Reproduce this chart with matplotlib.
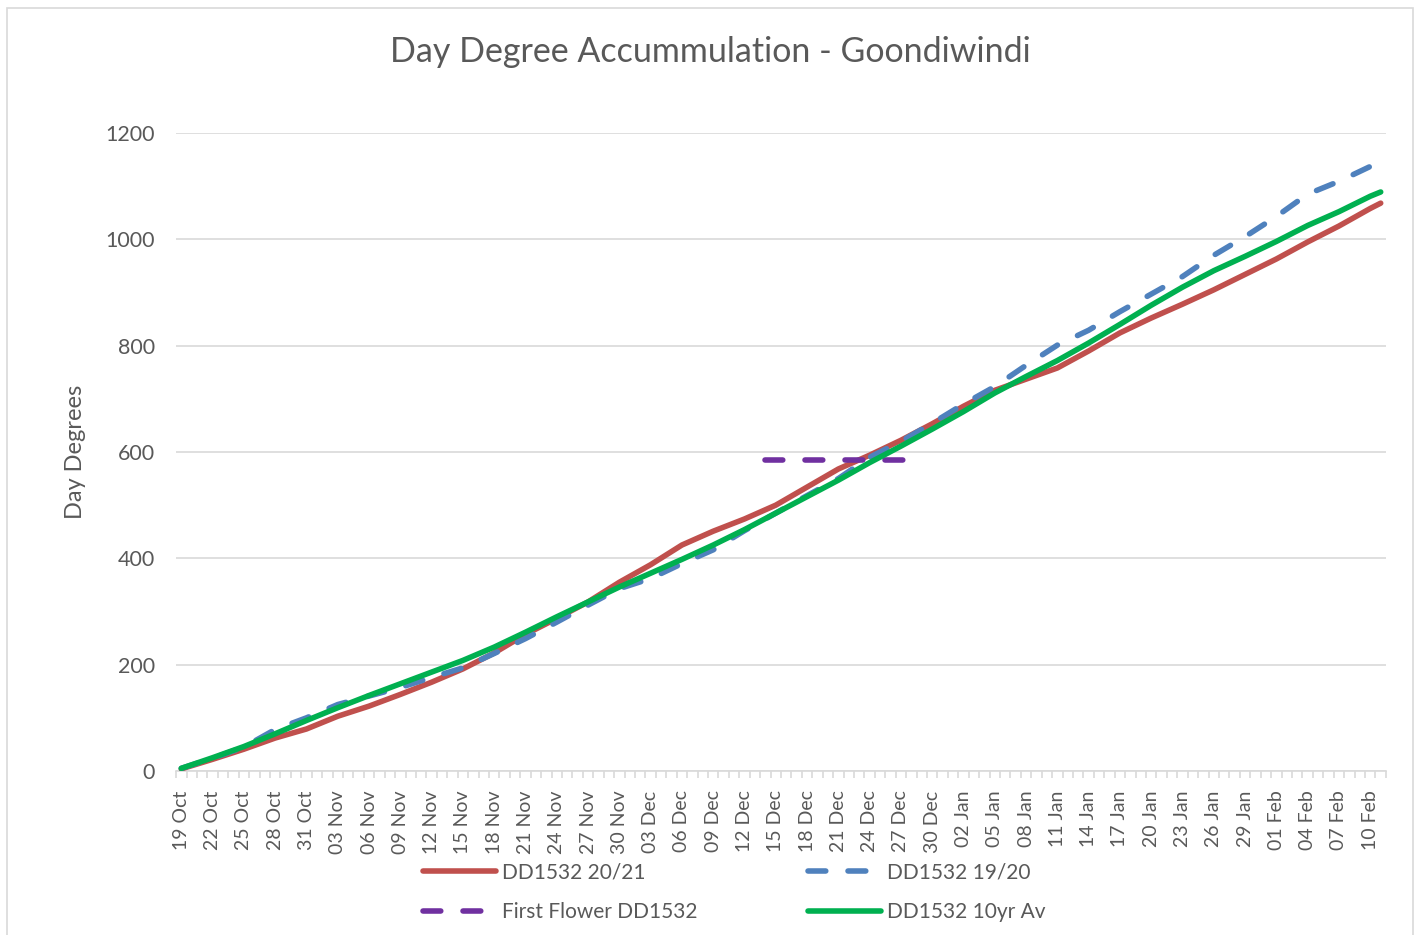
import pandas as pd
import matplotlib.pyplot as plt
from matplotlib.patches import Rectangle

plt.rcParams['font.family'] = ['Lato', 'DejaVu Sans']

# Fechas: una muestra cada 3 dias, mas el ultimo dia (11 Feb)
start = pd.Timestamp('2020-10-19')
sample_dates = pd.date_range('2020-10-19', '2021-02-10', freq='3D').append(pd.DatetimeIndex(['2021-02-11']))
tick_dates = pd.date_range('2020-10-19', '2021-02-10', freq='3D')
n_days = 116

# Grados dia acumulados
dd_2021 = [4, 22, 41, 62, 79, 103, 122, 144, 167, 192, 222, 257, 287, 318, 355, 388, 425, 451, 474, 500,
           534, 568, 594, 622, 653, 686, 716, 737, 758, 790, 824, 852, 878, 905, 934, 963, 995, 1025, 1058, 1068]
dd_1920 = [5, 24, 45, 78, 100, 125, 141, 157, 176, 194, 221, 249, 280, 312, 343, 362, 390, 416, 452, 485,
           518, 550, 590, 620, 654, 690, 723, 763, 801, 829, 864, 897, 930, 970, 1005, 1043, 1085, 1109, 1137, 1145]
dd_10yr = [5, 25, 46, 70, 95, 119, 142, 164, 186, 208, 233, 261, 290, 318, 346, 372, 398, 425, 454, 485,
           516, 547, 580, 611, 643, 676, 711, 742, 772, 805, 840, 876, 910, 941, 968, 996, 1026, 1052, 1081, 1089]
flower_dates = pd.DatetimeIndex(['2020-12-14', '2020-12-28'])
flower_dd = [585, 585]

x = (sample_dates - start).days
xf = (flower_dates - start).days
xt = (tick_dates - start).days
tick_labels = [d.strftime('%d %b') for d in tick_dates]

fig = plt.figure(figsize=(14.2, 9.35), dpi=100)
ax = fig.add_axes([0.124, 0.1754, 0.852, 0.6824])

# borde del grafico
fig.patches.append(Rectangle((7 / 1420, -0.1), 1406 / 1420, 1.1 - 8 / 935, transform=fig.transFigure,
                             fill=False, edgecolor='#D9D9D9', linewidth=1.2))

lw = 4.0
dash = (0, (3.2, 4.0))
l1, = ax.plot(x, dd_2021, color='#C0504D', linewidth=lw, solid_capstyle='round', solid_joinstyle='round',
              label='DD1532 20/21', zorder=3)
l2, = ax.plot(x, dd_1920, color='#4F81BD', linewidth=lw, linestyle=dash, dash_capstyle='round',
              label='DD1532 19/20', zorder=4)
l3, = ax.plot(xf, flower_dd, color='#7030A0', linewidth=lw, linestyle=dash, dash_capstyle='round',
              label='First Flower DD1532', zorder=5)
l4, = ax.plot(x, dd_10yr, color='#00B050', linewidth=lw, solid_capstyle='round', solid_joinstyle='round',
              label='DD1532 10yr Av', zorder=6)

ax.set_xlim(-0.5, n_days - 0.5)
ax.set_ylim(0, 1200)
ax.set_yticks(range(0, 1201, 200))
ax.set_xticks(xt)
ax.set_xticklabels(tick_labels, rotation=90)
ax.set_xticks([d - 0.5 for d in range(n_days + 1)], minor=True)
ax.tick_params(axis='x', which='major', length=0, pad=14, labelsize=14, labelcolor='#595959')
ax.tick_params(axis='x', which='minor', length=5, width=1.2, color='#D9D9D9')
ax.tick_params(axis='y', length=0, pad=15, labelsize=15.5, labelcolor='#595959')

ax.grid(axis='y', color='#D9D9D9', linewidth=1.2)
ax.set_axisbelow(True)
for s in ['top', 'right', 'left']:
    ax.spines[s].set_visible(False)
ax.spines['bottom'].set_color('#D9D9D9')
ax.spines['bottom'].set_linewidth(1.2)

ax.set_ylabel('Day Degrees', fontsize=17, color='#595959', labelpad=14)
fig.text(0.5, 1 - 52 / 935, 'Day Degree Accummulation - Goondiwindi', ha='center', va='center',
         fontsize=24.5, color='#595959')

fig.legend(handles=[l1, l3, l2, l4], loc='center', bbox_to_anchor=(0.517, 1 - 892 / 935), ncol=2,
           frameon=False, fontsize=15, handlelength=3.5, handletextpad=0.3, columnspacing=5.3,
           labelspacing=0.95, labelcolor='#595959')

fig.savefig('out.png', dpi=100)
